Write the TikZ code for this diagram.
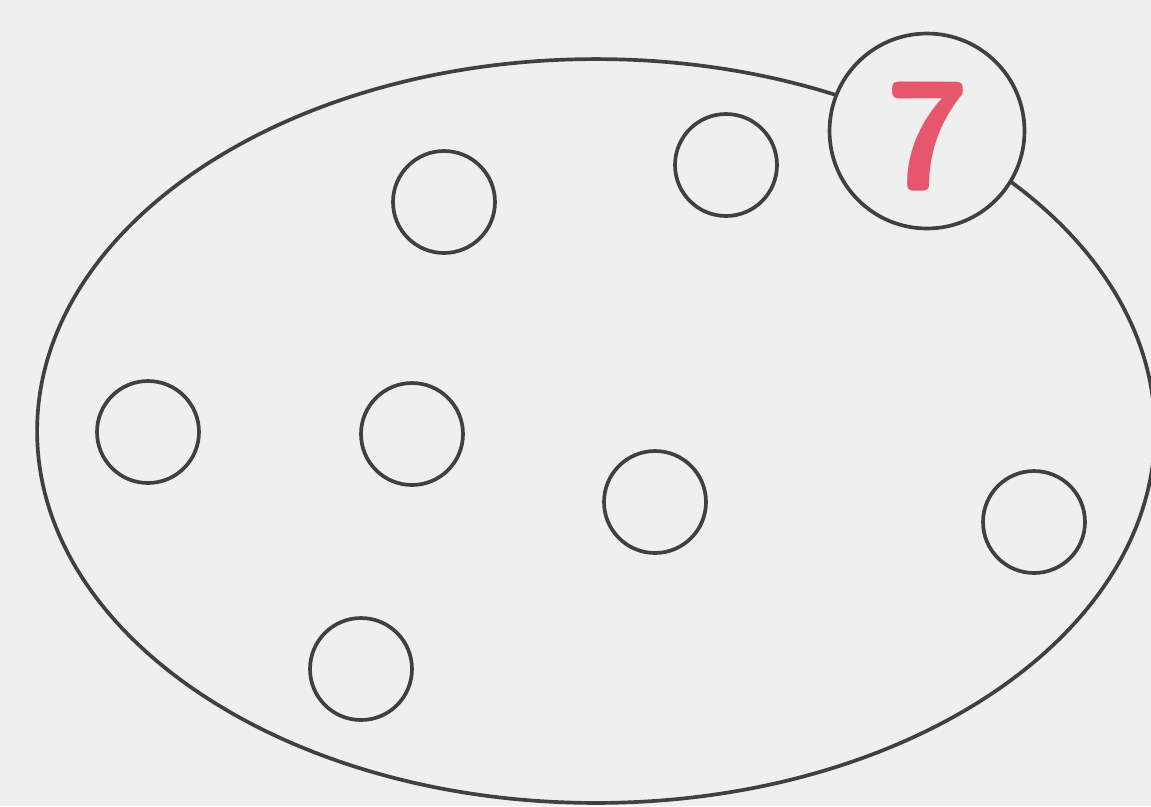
\documentclass[tikz,border=0pt]{standalone}
\usepackage{tikz}
\usetikzlibrary{positioning,calc,shapes.geometric}
\definecolor{PageGray}{RGB}{239,239,237}
\definecolor{InkGray}{RGB}{64,64,62}
\definecolor{NumRed}{RGB}{230,86,108}
\tikzset{
	setline/.style={ellipse,draw=InkGray,line width=2.1pt,minimum width=22.36cm,minimum height=14.88cm,inner sep=0pt},
	elem/.style={circle,draw=InkGray,line width=2.1pt,minimum size=2.04cm,inner sep=0pt},
	tag/.style={circle,draw=InkGray,fill=PageGray,line width=2.1pt,minimum size=3.9cm,inner sep=0pt},
}
\begin{document}
\begin{tikzpicture}[x=0.02cm,y=-0.02cm]
			\fill[PageGray] (0,0) rectangle (1151,806);
			\useasboundingbox (0,0) rectangle (1151,806);
			\node[setline] (set) at (596,431) {};
			\foreach \n/\p in {a/{444,202},b/{726,165},c/{148,432},d/{412,434},e/{655,502},f/{1034,522},g/{361,669}}
			\node[elem] (\n) at (\p) {};
			\node[tag] (seven) at (927,131) {};
			\node[NumRed,font=\fontsize{88}{88}\selectfont\sffamily\bfseries] (num) at ($(seven)+(1,6)$) {7};
		\end{tikzpicture}
\end{document}
